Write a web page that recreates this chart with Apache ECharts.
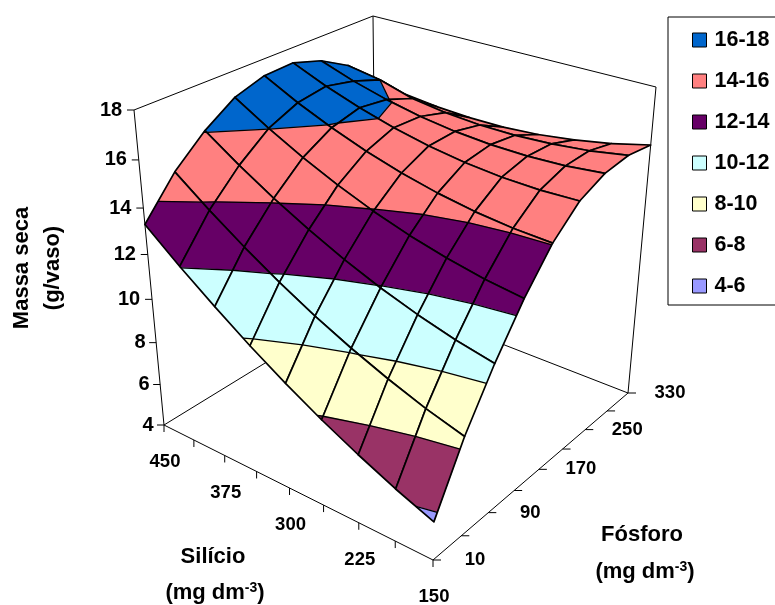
<!DOCTYPE html>
<html><head><meta charset="utf-8">
<style>html,body{margin:0;padding:0;background:#fff}#c{width:775px;height:605px}</style>
<script src="https://cdn.jsdelivr.net/npm/echarts@6/dist/echarts.min.js"></script>
</head><body><div id="c"></div>
<script>
// ---- data ----
var siValues = [150,187.5,225,262.5,300,337.5,375,412.5,450];
var pValues = [10,50,90,130,170,210,250,290,330];
var siTickLabels = ['150','225','300','375','450'];
var pTickLabels = ['10','90','170','250','330'];
var massTicks = [4,6,8,10,12,14,16,18];
var bandNames = ['16-18','14-16','12-14','10-12','8-10','6-8','4-6'];
var bandLow = [16,14,12,10,8,6,4];
var bandColors = ['#0066CC','#FF8080','#660066','#CCFFFF','#FFFFCC','#993366','#9999FF'];
// one row per fósforo level, columns follow siValues
var massP10  = [5.70,6.34,7.08,7.89,8.80,9.79,10.88,12.04,13.30];
var massP50  = [8.40,8.88,9.47,10.14,10.90,11.76,12.72,13.76,14.90];
var massP90  = [10.60,10.95,11.40,11.94,12.58,13.31,14.13,15.04,16.05];
var massP130 = [12.50,12.72,13.04,13.45,13.95,14.55,15.24,16.02,16.90];
var massP170 = [14.05,14.13,14.30,14.57,14.93,15.38,15.93,16.56,17.30];
var massP210 = [15.10,15.05,15.10,15.24,15.48,15.81,16.23,16.74,17.35];
var massP250 = [15.60,15.44,15.38,15.41,15.53,15.74,16.05,16.45,16.95];
var massP290 = [15.75,15.48,15.32,15.24,15.25,15.36,15.57,16.00,16.25];
var massP330 = [15.60,15.21,14.92,14.71,14.60,14.59,14.67,14.83,15.10];
var massRows = [massP10,massP50,massP90,massP130,massP170,massP210,massP250,massP290,massP330];

// ---- view of the box (the projection) ----
var floorCorners = [[433,560],[164,425],[376,295],[628,393]]; // (Si min,P min),(Si max,P min),(Si max,P max),(Si min,P max)
var roofCorners  = [[441,210],[134,110],[373,16],[656,87]];
var depthRatio = 1.13;

function makeH(q){
  var x0=q[0][0],y0=q[0][1],x1=q[1][0],y1=q[1][1],x2=q[2][0],y2=q[2][1],x3=q[3][0],y3=q[3][1];
  var dx1=x1-x2,dx2=x3-x2,sx=x0-x1+x2-x3,dy1=y1-y2,dy2=y3-y2,sy=y0-y1+y2-y3;
  var den=dx1*dy2-dx2*dy1,g=(sx*dy2-dx2*sy)/den,h=(dx1*sy-sx*dy1)/den;
  var a=x1-x0+g*x1,b=x3-x0+h*x3,d=y1-y0+g*y1,e=y3-y0+h*y3;
  return function(u,v){var t=g*u+h*v+1;return [(a*u+b*v+x0)/t,(d*u+e*v+y0)/t];};
}
var floorH=makeH(floorCorners), roofH=makeH(roofCorners);
var zMin=massTicks[0], zMax=massTicks[massTicks.length-1];
function projectUV(u,v,z){
  var w=(z-zMin)/(zMax-zMin), k=w/(w+depthRatio*(1-w));
  var f=floorH(u,v), t=roofH(u,v);
  return [f[0]+k*(t[0]-f[0]), f[1]+k*(t[1]-f[1])];
}
function uOf(si){return (si-siValues[0])/(siValues[siValues.length-1]-siValues[0]);}
function vOf(p){return (p-pValues[0])/(pValues[pValues.length-1]-pValues[0]);}

function clipBand(poly,lo,hi){
  function clip(pts,inside,level){
    var out=[];
    for(var n=0;n<pts.length;n++){
      var a=pts[n],b=pts[(n+1)%pts.length],ia=inside(a[2]),ib=inside(b[2]);
      if(ia) out.push(a);
      if(ia!==ib){var t=(level-a[2])/(b[2]-a[2]);out.push([a[0]+t*(b[0]-a[0]),a[1]+t*(b[1]-a[1]),level]);}
    }
    return out;
  }
  var r=clip(poly,function(z){return z>=lo;},lo);
  if(r.length) r=clip(r,function(z){return z<=hi;},hi);
  return r;
}
function levelSegments(poly,level){
  var c=[];
  for(var n=0;n<poly.length;n++){
    var a=poly[n],b=poly[(n+1)%poly.length];
    if((a[2]-level)*(b[2]-level)<0||(a[2]===level&&b[2]!==level)){
      var t=(level-a[2])/(b[2]-a[2]);c.push([a[0]+t*(b[0]-a[0]),a[1]+t*(b[1]-a[1]),level]);
    }
  }
  var s=[];for(var m=0;m+1<c.length;m+=2)s.push([c[m],c[m+1]]);
  return s;
}

var cells=[];
for(var ci=0;ci<siValues.length-1;ci++)for(var cj=0;cj<pValues.length-1;cj++)cells.push([ci,cj]);
cells.sort(function(a,b){return (b[0]+b[1])-(a[0]+a[1]);});

function renderCell(params,api){
  var i=api.value(0),j=api.value(1),kids=[];
  var quad=[[i,j],[i+1,j],[i+1,j+1],[i,j+1]].map(function(c){
    return [uOf(siValues[c[0]]),vOf(pValues[c[1]]),massRows[c[1]][c[0]]];
  });
  function px(q){return api.coord(projectUV(q[0],q[1],q[2]));}
  bandLow.forEach(function(lo,b){
    var poly=clipBand(quad,lo,lo+2);
    if(poly.length>2) kids.push({type:'polygon',shape:{points:poly.map(px)},
      style:{fill:bandColors[b],stroke:bandColors[b],lineWidth:0.6}});
  });
  bandLow.forEach(function(lo){
    levelSegments(quad,lo).forEach(function(s){
      kids.push({type:'polyline',shape:{points:s.map(px)},style:{fill:null,stroke:'#000',lineWidth:1.3}});
    });
  });
  kids.push({type:'polygon',shape:{points:quad.map(px)},style:{fill:null,stroke:'#000',lineWidth:1.7,lineJoin:'round'}});
  return {type:'group',children:kids};
}

var tickFont='bold 18.5px "Liberation Sans", Arial, sans-serif';
var zFont='bold 20px "Liberation Sans", Arial, sans-serif';
function renderFrame(params,api){
  var kids=[];
  function seg(a,b,w,col){
    var p=api.coord(a),q=api.coord(b);
    kids.push({type:'line',shape:{x1:p[0],y1:p[1],x2:q[0],y2:q[1]},style:{stroke:col||'#000',lineWidth:w||1}});
  }
  function label(t,at,dx,dy,font){
    var p=api.coord(at);
    kids.push({type:'text',x:p[0]+dx,y:p[1]+dy,style:{text:t,font:font,fill:'#000',textAlign:'center',textVerticalAlign:'middle'}});
  }
  var lo=zMin,hi=zMax;
  // walls and floor
  seg(projectUV(0,0,lo),projectUV(1,0,lo));
  seg(projectUV(0,0,lo),projectUV(0,1,lo));
  seg(projectUV(1,0,lo),projectUV(1,1,lo));
  seg(projectUV(0,1,lo),projectUV(1,1,lo));
  seg(projectUV(1,0,lo),projectUV(1,0,hi));
  seg(projectUV(0,1,lo),projectUV(0,1,hi));
  seg(projectUV(1,1,lo),projectUV(1,1,hi));
  seg(projectUV(1,0,hi),projectUV(1,1,hi));
  seg(projectUV(1,1,hi),projectUV(0,1,hi));
  // mass axis
  massTicks.forEach(function(m){
    var a=projectUV(1,0,m);
    seg([a[0]-7,a[1]],a);
    label(String(m),a,m>=10?-23:-16,0,zFont);
  });
  // silício axis
  siValues.forEach(function(s){
    var a=projectUV(uOf(s),0,lo);
    seg(a,[a[0],a[1]+7]);
    if(siTickLabels.indexOf(String(s))>=0) label(String(s),a,1,37,tickFont);
  });
  // fósforo axis
  pValues.forEach(function(p){
    var a=projectUV(0,vOf(p),lo);
    seg(a,[a[0]+8,a[1]]);
    if(pTickLabels.indexOf(String(p))>=0) label(String(p),a,42,0,tickFont);
  });
  return {type:'group',children:kids};
}

var series=[
  {type:'custom',name:'frame',silent:true,clip:false,z:2,renderItem:renderFrame,data:[[0,0]],animation:false},
  {type:'custom',name:'surface',silent:true,clip:false,z:3,renderItem:renderCell,data:cells,animation:false}
];
bandNames.forEach(function(n,b){
  series.push({type:'custom',name:n,renderItem:function(){return null;},data:[],itemStyle:{color:bandColors[b]},animation:false});
});
var titleFont='bold 22px "Liberation Sans", Arial, sans-serif';
function unitText(x,y){
  return {type:'text',x:x,y:y,silent:true,style:{text:'{a|(mg dm}{b|-3}{a|)}',textAlign:'center',textVerticalAlign:'middle',
    rich:{a:{font:titleFont,fill:'#000'},b:{font:'bold 14px "Liberation Sans", Arial, sans-serif',fill:'#000',verticalAlign:'top',padding:[0,0,9,0]}}}};
}
function plainText(t,x,y,rot){
  return {type:'text',x:x,y:y,rotation:rot||0,silent:true,style:{text:t,font:titleFont,fill:'#000',textAlign:'center',textVerticalAlign:'middle'}};
}
var chart=echarts.init(document.getElementById('c'),null,{renderer:'canvas'});
chart.setOption({
  animation:false,
  backgroundColor:'#fff',
  grid:{left:0,top:0,width:775,height:605,containLabel:false},
  xAxis:{type:'value',min:0,max:775,show:false},
  yAxis:{type:'value',min:0,max:605,inverse:true,show:false},
  legend:{orient:'vertical',left:692,top:29,itemWidth:14,itemHeight:14,itemGap:19,padding:0,icon:'rect',
    selectedMode:false,data:bandNames,
    itemStyle:{borderColor:'#000',borderWidth:1},
    textStyle:{fontFamily:'"Liberation Sans", Arial, sans-serif',fontWeight:'bold',fontSize:21.5,color:'#000',padding:[0,0,0,3]}},
  graphic:[
    {type:'rect',shape:{x:668,y:17,width:130,height:288},style:{fill:'#fff',stroke:'#000',lineWidth:1},z:-1,silent:true},
    plainText('Massa seca',22,268,Math.PI/2),
    plainText('(g/vaso)',53,268,Math.PI/2),
    plainText('Silício',213,557),
    unitText(215,593),
    plainText('Fósforo',642,535),
    unitText(645,572)
  ],
  series:series
});
</script></body></html>
